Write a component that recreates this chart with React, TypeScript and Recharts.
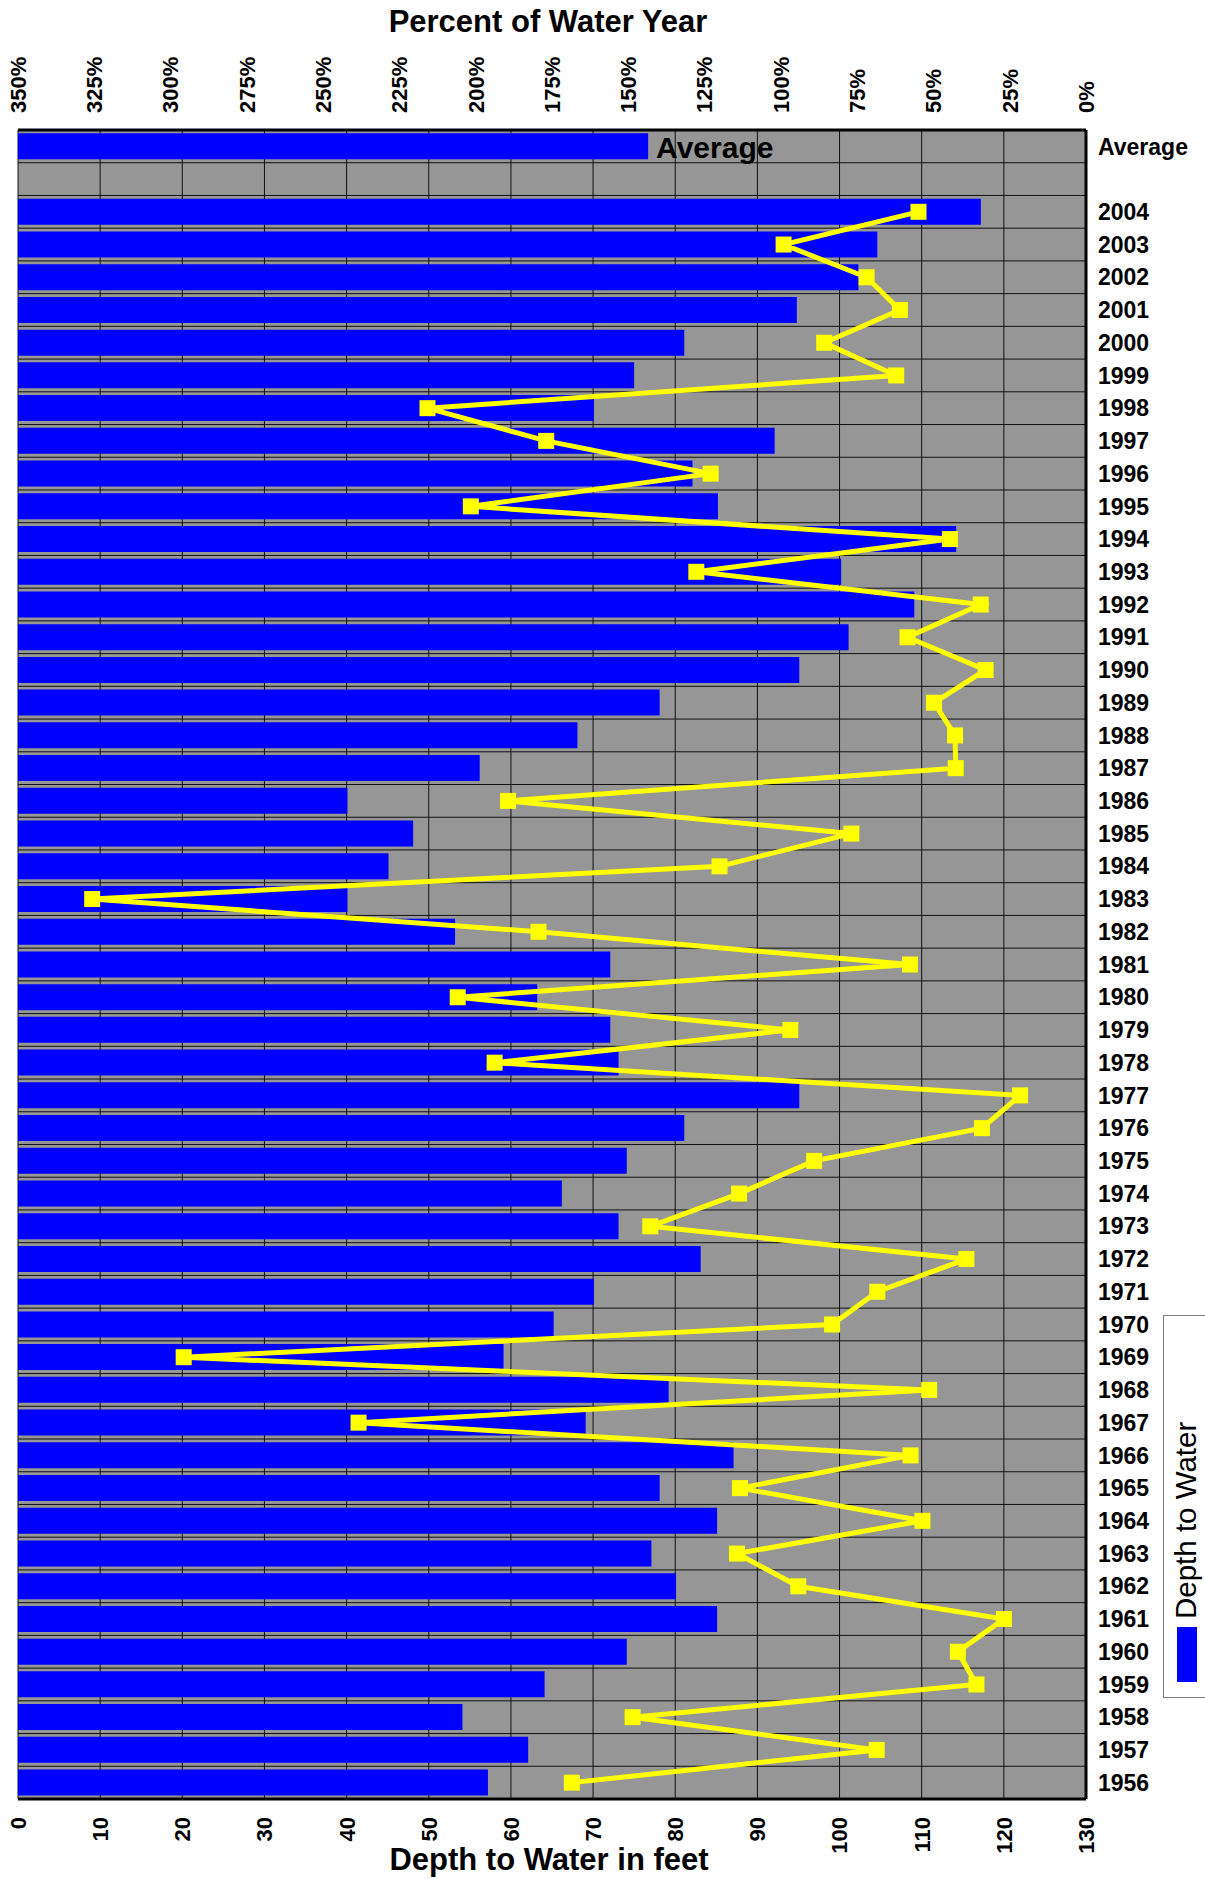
import React from "react";
import {
  ComposedChart,
  Bar,
  Line,
  XAxis,
  YAxis,
  CartesianGrid,
  Legend,
  LabelList,
} from "recharts";

const FONT = '"Liberation Sans", Arial, Helvetica, sans-serif';

// water years, newest first (top of chart)
const years = [
  2004, 2003, 2002, 2001, 2000, 1999, 1998, 1997, 1996, 1995,
  1994, 1993, 1992, 1991, 1990, 1989, 1988, 1987, 1986, 1985,
  1984, 1983, 1982, 1981, 1980, 1979, 1978, 1977, 1976, 1975,
  1974, 1973, 1972, 1971, 1970, 1969, 1968, 1967, 1966, 1965,
  1964, 1963, 1962, 1961, 1960, 1959, 1958, 1957, 1956,
];

// depth to water, feet
const depthFt = [
  117.2, 104.6, 102.3, 94.8, 81.1, 75.0, 70.1, 92.1, 82.1, 85.2,
  114.2, 100.2, 109.1, 101.1, 95.1, 78.1, 68.1, 56.2, 40.1, 48.1,
  45.1, 40.1, 53.2, 72.1, 63.2, 72.1, 73.1, 95.1, 81.1, 74.1,
  66.2, 73.1, 83.1, 70.1, 65.2, 59.1, 79.2, 69.1, 87.1, 78.1,
  85.1, 77.1, 80.1, 85.1, 74.1, 64.1, 54.1, 62.1, 57.2,
];

// percent of water year
const pctOfYear = [
  54.9, 99.1, 71.9, 61.0, 85.8, 62.2, 215.8, 176.9, 123.0, 201.6,
  44.6, 127.7, 34.5, 58.5, 32.9, 49.8, 42.9, 42.7, 189.4, 76.9,
  120.1, 325.7, 179.4, 57.7, 205.9, 96.9, 193.8, 21.6, 34.1, 89.1,
  113.7, 142.8, 39.2, 68.4, 83.2, 295.7, 51.4, 238.4, 57.5, 113.4,
  53.6, 114.4, 94.3, 26.9, 42.0, 35.9, 148.6, 68.6, 168.5,
];

const averageDepth = 76.7;

const depthTicks = [0, 10, 20, 30, 40, 50, 60, 70, 80, 90, 100, 110, 120, 130];
const pctTicks = [0, 25, 50, 75, 100, 125, 150, 175, 200, 225, 250, 275, 300, 325, 350];

const rows = [
  { name: "Average", depth: averageDepth, pct: null as number | null },
  { name: "", depth: null as number | null, pct: null as number | null },
  ...years.map((y, i) => ({ name: String(y), depth: depthFt[i], pct: pctOfYear[i] })),
];

function TopTick(props: any) {
  const { x, y, payload } = props;
  const ay = y - 17;
  return (
    <text
      x={x}
      y={ay}
      dy="0.36em"
      transform={`rotate(-90, ${x}, ${ay})`}
      textAnchor="start"
      fontFamily={FONT}
      fontWeight="bold"
      fontSize={22}
      fill="#000"
    >
      {payload.value}%
    </text>
  );
}

function BottomTick(props: any) {
  const { x, y, payload } = props;
  const ay = y + 18;
  return (
    <text
      x={x}
      y={ay}
      dy="0.36em"
      transform={`rotate(-90, ${x}, ${ay})`}
      textAnchor="end"
      fontFamily={FONT}
      fontWeight="bold"
      fontSize={22}
      fill="#000"
    >
      {payload.value}
    </text>
  );
}

function SquareDot(props: any) {
  const { cx, cy, index, value } = props;
  if (cx == null || cy == null || value == null) return <g key={`d${index}`} />;
  return <rect key={`d${index}`} x={cx - 8} y={cy - 8} width={16} height={16} fill="#ffff00" />;
}

function AverageLabel(props: any) {
  const { x, y, width, height, value } = props;
  if (value !== "Average") return null;
  return (
    <text
      x={x + width + 8}
      y={y + height / 2}
      dy="0.38em"
      fontFamily={FONT}
      fontWeight="bold"
      fontSize={30}
      fill="#000"
    >
      Average
    </text>
  );
}

function LegendBox(props: any) {
  const item = (props.payload || []).find((p: any) => p.dataKey === "depth");
  return (
    <svg width={60} height={384} style={{ display: "block" }}>
      <rect x={0.5} y={0.5} width={80} height={382} fill="#fff" stroke="#7f7f7f" />
      <rect x={14} y={312} width={20} height={55} fill={item?.color ?? "#0000ff"} />
      <text
        transform="translate(33, 304) rotate(-90)"
        fontFamily={FONT}
        fontSize={29.5}
        fill="#000"
      >
        {item?.value ?? "Depth to Water"}
      </text>
    </svg>
  );
}

const border = { stroke: "#000", strokeWidth: 3 };

export default function App() {
  const n = rows.length;
  return (
    <div
      style={{
        position: "absolute",
        left: 0,
        top: 0,
        width: 1205,
        height: 1879,
        overflow: "hidden",
        background: "#fff",
      }}
    >
      <ComposedChart
        width={1205}
        height={1879}
        data={rows}
        layout="vertical"
        margin={{ top: 0, right: 0, bottom: 0, left: 18 }}
        barCategoryGap="10%"
      >
        <CartesianGrid
          xAxisId="ft"
          fill="#969696"
          stroke="#111"
          strokeWidth={1}
          horizontalCoordinatesGenerator={({ offset }: any) =>
            Array.from({ length: n + 1 }, (_, i) => offset.top + (i * offset.height) / n)
          }
        />
        <XAxis
          xAxisId="pct"
          orientation="top"
          type="number"
          domain={[0, 350]}
          ticks={pctTicks}
          reversed
          height={130}
          tickSize={0}
          tickMargin={0}
          tickLine={false}
          axisLine={border}
          tick={<TopTick />}
          interval={0}
          label={({ viewBox }: any) => (
            <text
              x={viewBox.x + viewBox.width / 2 - 4}
              y={viewBox.y + 32}
              textAnchor="middle"
              fontFamily={FONT}
              fontWeight="bold"
              fontSize={31}
              fill="#000"
            >
              Percent of Water Year
            </text>
          )}
        />
        <XAxis
          xAxisId="ft"
          orientation="bottom"
          type="number"
          domain={[0, 130]}
          ticks={depthTicks}
          height={80}
          tickSize={0}
          tickMargin={0}
          tickLine={false}
          axisLine={border}
          tick={<BottomTick />}
          interval={0}
          label={({ viewBox }: any) => (
            <text
              x={viewBox.x + viewBox.width / 2 - 3}
              y={viewBox.y + 71}
              textAnchor="middle"
              fontFamily={FONT}
              fontWeight="bold"
              fontSize={31}
              fill="#000"
            >
              Depth to Water in feet
            </text>
          )}
        />
        <YAxis
          yAxisId="left"
          orientation="left"
          type="category"
          dataKey="name"
          width={0}
          tick={false}
          tickLine={false}
          axisLine={border}
        />
        <YAxis
          orientation="right"
          type="category"
          dataKey="name"
          width={119}
          tickSize={0}
          tickMargin={12}
          tickLine={false}
          axisLine={border}
          interval={0}
          tick={{ fill: "#000", fontFamily: FONT, fontWeight: "bold", fontSize: 23 }}
        />
        <Legend
          layout="horizontal"
          verticalAlign="middle"
          align="center"
          content={<LegendBox />}
          wrapperStyle={{ position: "absolute", left: 1163, top: 1315, width: 60, height: 384 }}
        />
        <Bar
          xAxisId="ft"
          dataKey="depth"
          name="Depth to Water"
          fill="#0000ff"
          isAnimationActive={false}
        >
          <LabelList dataKey="name" content={<AverageLabel />} />
        </Bar>
        <Line
          xAxisId="pct"
          dataKey="pct"
          name="Percent of Water Year"
          stroke="#ffff00"
          strokeWidth={5}
          dot={SquareDot}
          activeDot={false}
          legendType="none"
          isAnimationActive={false}
        />
      </ComposedChart>
    </div>
  );
}
